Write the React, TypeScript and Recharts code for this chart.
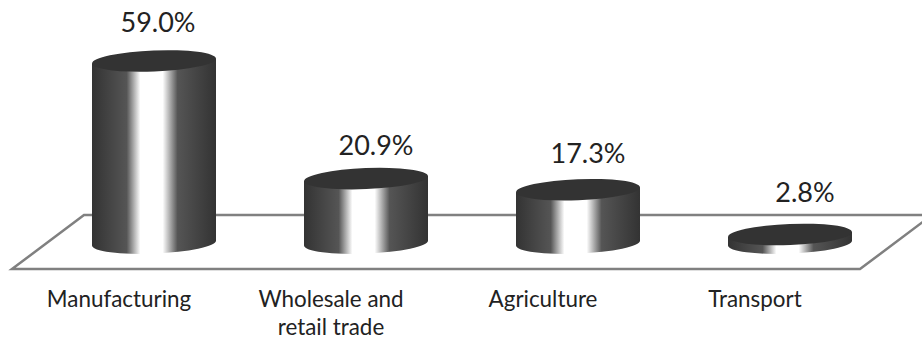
import { BarChart, Bar, XAxis, YAxis, ReferenceArea, LabelList } from "recharts";

const categories = ["Manufacturing", "Wholesale and retail trade", "Agriculture", "Transport"];
const shares = [59.0, 20.9, 17.3, 2.8];
const tickLines = [["Manufacturing"], ["Wholesale and", "retail trade"], ["Agriculture"], ["Transport"]];

const data = categories.map((category, i) => ({ category, share: shares[i], lines: tickLines[i] }));

const FONT = "Lato, 'Open Sans', sans-serif";
const TEXT_COLOR = "#222";

// the value labels drift right along the floor's perspective
const labelShift = [
  { dx: 4, dy: -29 },
  { dx: 10, dy: -24 },
  { dx: 10, dy: -27 },
  { dx: 15, dy: -32 },
];

const RY = 10.5;
const TILT = -2.3;

const Cylinder = ({ x, y, width, height }: any) => {
  const rx = width / 2;
  const cx = x + rx;
  const bottom = y + height;
  const lift = rx * Math.sin((-TILT * Math.PI) / 180);
  const body = [
    `M ${x} ${y + lift}`,
    `L ${x} ${bottom + lift}`,
    `A ${rx} ${RY} ${TILT} 0 0 ${x + width} ${bottom - lift}`,
    `L ${x + width} ${y - lift}`,
    "Z",
  ].join(" ");
  return (
    <g>
      <path d={body} fill="url(#cylinderSide)" />
      <ellipse
        cx={cx}
        cy={y}
        rx={rx}
        ry={RY}
        fill="#333"
        transform={`rotate(${TILT} ${cx} ${y})`}
      />
    </g>
  );
};

const Floor = ({ x, y, width, height }: any) => {
  const skew = 36;
  const d = `M ${x - skew} ${y + height} L ${x + skew} ${y} L ${x + width + skew} ${y} L ${x + width - skew} ${y + height} Z`;
  return <path d={d} fill="#fff" stroke="#808080" strokeWidth={2.5} />;
};

const CategoryTick = ({ x, payload, index }: any) => (
  <text x={x - 35} fontFamily={FONT} fontSize={22.4} fill={TEXT_COLOR} textAnchor="middle">
    {(tickLines[index] ?? [payload.value]).map((line: string, i: number) => (
      <tspan key={line} x={x - 35} y={307 + i * 28}>
        {line}
      </tspan>
    ))}
  </text>
);

const ShareLabel = ({ x, y, width, value, index }: any) => (
  <text
    x={x + width / 2 + labelShift[index].dx}
    y={y + labelShift[index].dy}
    fontFamily={FONT}
    fontSize={27}
    fill={TEXT_COLOR}
    textAnchor="middle"
  >
    {`${Number(value).toFixed(1)}%`}
  </text>
);

const App = () => {
  return (
    <div style={{ position: "absolute", left: 0, top: 0, width: 922, height: 340, background: "#fff" }}>
      <BarChart
        width={922}
        height={340}
        data={data}
        margin={{ top: 27, right: 26, bottom: 0, left: 48 }}
      >
        <defs>
          <linearGradient id="cylinderSide" x1="0" y1="0" x2="1" y2="0">
            <stop offset="0" stopColor="#333" />
            <stop offset="0.28" stopColor="#555" />
            <stop offset="0.39" stopColor="#fff" />
            <stop offset="0.57" stopColor="#fff" />
            <stop offset="0.69" stopColor="#555" />
            <stop offset="1" stopColor="#333" />
          </linearGradient>
        </defs>
        <XAxis
          dataKey="category"
          axisLine={false}
          tickLine={false}
          interval={0}
          height={66}
          tick={<CategoryTick />}
        />
        <YAxis hide domain={[-10, 70]} />
        <ReferenceArea y1={-8.4} y2={9.1} shape={<Floor />} ifOverflow="visible" />
        <Bar dataKey="share" barSize={124} shape={<Cylinder />} isAnimationActive={false}>
          <LabelList dataKey="share" content={<ShareLabel />} />
        </Bar>
      </BarChart>
    </div>
  );
};

export default App;
